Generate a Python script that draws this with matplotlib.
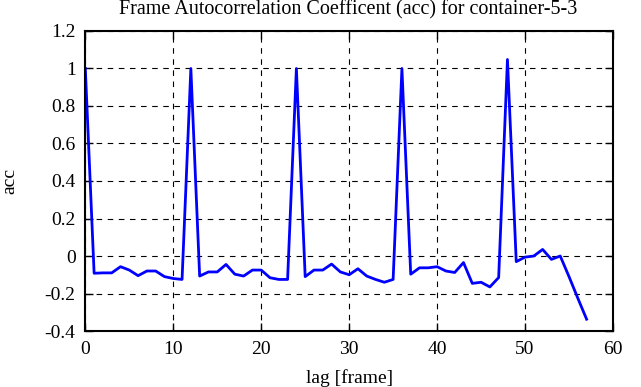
import numpy as np
import matplotlib
matplotlib.use("Agg")
import matplotlib.pyplot as plt

plt.rcParams['font.family'] = ['Liberation Serif', 'DejaVu Serif']

lags = np.arange(58)
acc = [1.0, -0.092, -0.09, -0.09, -0.057, -0.075, -0.105, -0.08, -0.08, -0.11,
       -0.12, -0.125, 1.0, -0.107, -0.085, -0.085, -0.045, -0.097, -0.107, -0.075,
       -0.075, -0.116, -0.125, -0.125, 1.0, -0.11, -0.075, -0.075, -0.043, -0.085,
       -0.1, -0.068, -0.107, -0.125, -0.14, -0.125, 1.0, -0.097, -0.063, -0.063,
       -0.057, -0.08, -0.088, -0.035, -0.146, -0.14, -0.165, -0.115, 1.048, -0.03,
       -0.006, 0.0, 0.035, -0.018, 0.0, -0.11, -0.225, -0.337]

xticks = [0, 10, 20, 30, 40, 50, 60]
yticks = [-0.4, -0.2, 0, 0.2, 0.4, 0.6, 0.8, 1, 1.2]
ylabels = ['-0.4', '-0.2', '0', '0.2', '0.4', '0.6', '0.8', '1', '1.2']

fig = plt.figure(figsize=(6.41, 3.87), dpi=100)
ax = fig.add_axes([0.1331, 0.1447, 0.8232, 0.7752])
ax.plot(lags, acc, color='#0000ff', lw=2)
ax.set_xlim(0, 60)
ax.set_ylim(-0.4, 1.2)
ax.set_xticks(xticks)
ax.set_yticks(yticks)
ax.set_yticklabels(ylabels)
ax.grid(True, color='black', linestyle=(0, (5, 5)), lw=0.8)
ax.tick_params(direction='in', length=6, width=1, top=True, right=True,
               labelsize=14, pad=7)
for s in ax.spines.values():
    s.set_linewidth(1.5)
ax.set_xlabel('lag [frame]', fontsize=14)
ax.xaxis.set_label_coords(0.5, -0.127)
ax.set_ylabel('acc', fontsize=14)
ax.yaxis.set_label_coords(-0.1275, 0.5)
fig.text(0.543, 0.9638, 'Frame Autocorrelation Coefficent (acc) for container-5-3',
         fontsize=14.5, ha='center', va='baseline')
fig.savefig('out.png', dpi=100)
